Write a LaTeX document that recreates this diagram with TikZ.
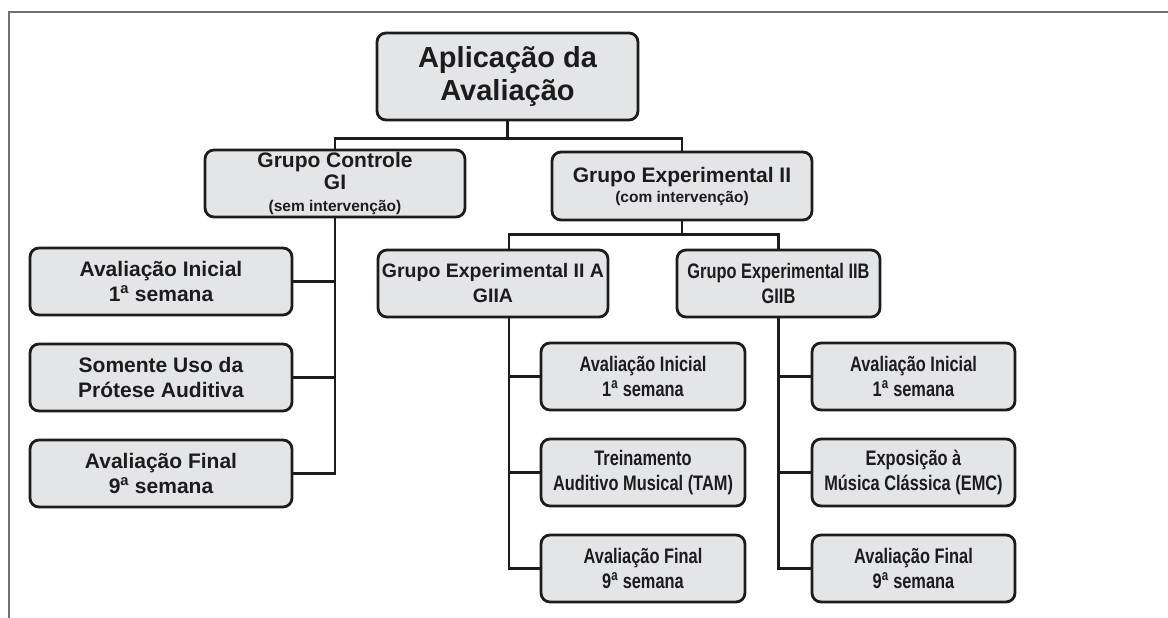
\documentclass[tikz,border=0pt]{standalone}
\usepackage{fontspec}
\setmainfont{Liberation Sans}
\newfontfamily\narrowfont[FakeStretch=0.78]{Liberation Sans}
\definecolor{boxfill}{HTML}{E4E5E7}
\definecolor{boxline}{HTML}{1E1B1C}
\definecolor{framegray}{HTML}{707070}

\begin{document}
\begin{tikzpicture}[x=1pt, y=1pt, node distance=96pt,
  box/.style={shape=rectangle, draw=boxline, fill=boxfill, line width=2.8pt, rounded corners=9pt,
    align=center, text=boxline, inner sep=0pt, minimum height=67pt,
    font=\bfseries\fontsize{21}{25}\selectfont},
  narrow/.style={font=\narrowfont\bfseries\fontsize{21}{25}\selectfont},
  link/.style={draw=boxline, line width=2.8pt}]

\useasboundingbox (0,0) rectangle (1168,-618);
\draw[framegray, line width=2pt] (9,-618) -- (9,-12) -- (1168,-12);

\node [box, minimum width=261pt, minimum height=87pt, font=\bfseries\fontsize{29}{33}\selectfont] (R) at (507.5,-76.5) {Aplicação da\\Avaliação};
\node [box, minimum width=260pt, font=\bfseries\fontsize{21}{22}\selectfont] (GC) at (335,-183.5) {Grupo Controle\\GI\\{\fontsize{15.5}{18}\selectfont(sem intervenção)}};
\node [box, minimum width=260pt, minimum height=68pt, font=\bfseries\fontsize{21}{20}\selectfont] (GE) at (682,-186) {Grupo Experimental II\\{\fontsize{15.5}{18}\selectfont(com intervenção)}};
\node [box, minimum width=230pt, font=\bfseries\fontsize{19.5}{25}\selectfont] (GIIA) at (493,-283.5) {Grupo Experimental II A\\GIIA};
\node [box, narrow, minimum width=203pt] (GIIB) at (778.5,-283.5) {Grupo Experimental IIB\\GIIB};

\node [box, minimum width=262pt] (C1) at (161,-281.5) {Avaliação Inicial\\1\textsuperscript{a} semana};
\node [box, minimum width=262pt, below of=C1] (C2) {Somente Uso da\\Prótese Auditiva};
\node [box, minimum width=262pt, below of=C2] (C3) {Avaliação Final\\9\textsuperscript{a} semana};

\node [box, narrow, minimum width=204pt] (A1) at (643,-376.5) {Avaliação Inicial\\1\textsuperscript{a} semana};
\node [box, narrow, minimum width=204pt, below of=A1] (A2) {Treinamento\\Auditivo Musical (TAM)};
\node [box, narrow, minimum width=204pt, below of=A2] (A3) {Avaliação Final\\9\textsuperscript{a} semana};

\node [box, narrow, minimum width=203pt] (B1) at (913.5,-376.5) {Avaliação Inicial\\1\textsuperscript{a} semana};
\node [box, narrow, minimum width=203pt, below of=B1] (B2) {Exposição à\\Música Clássica (EMC)};
\node [box, narrow, minimum width=203pt, below of=B2] (B3) {Avaliação Final\\9\textsuperscript{a} semana};

\draw[link] (R.south) -- ++(0,-17) -| (GC.north);
\draw[link] (R.south) -- ++(0,-17) -| (GE.north);
\draw[link] (GE.south) -- ++(0,-13) -| ([xshift=16pt]GIIA.north);
\draw[link] (GE.south) -- ++(0,-13) -| (GIIB.north);

\draw[link] (GC.south) |- (C1.east);
\draw[link] (GC.south) |- (C2.east);
\draw[link] (GC.south) |- (C3.east);

\draw[link] ([xshift=16pt]GIIA.south) |- (A1.west);
\draw[link] ([xshift=16pt]GIIA.south) |- (A2.west);
\draw[link] ([xshift=16pt]GIIA.south) |- (A3.west);

\draw[link] (GIIB.south) |- (B1.west);
\draw[link] (GIIB.south) |- (B2.west);
\draw[link] (GIIB.south) |- (B3.west);
\end{tikzpicture}
\end{document}
